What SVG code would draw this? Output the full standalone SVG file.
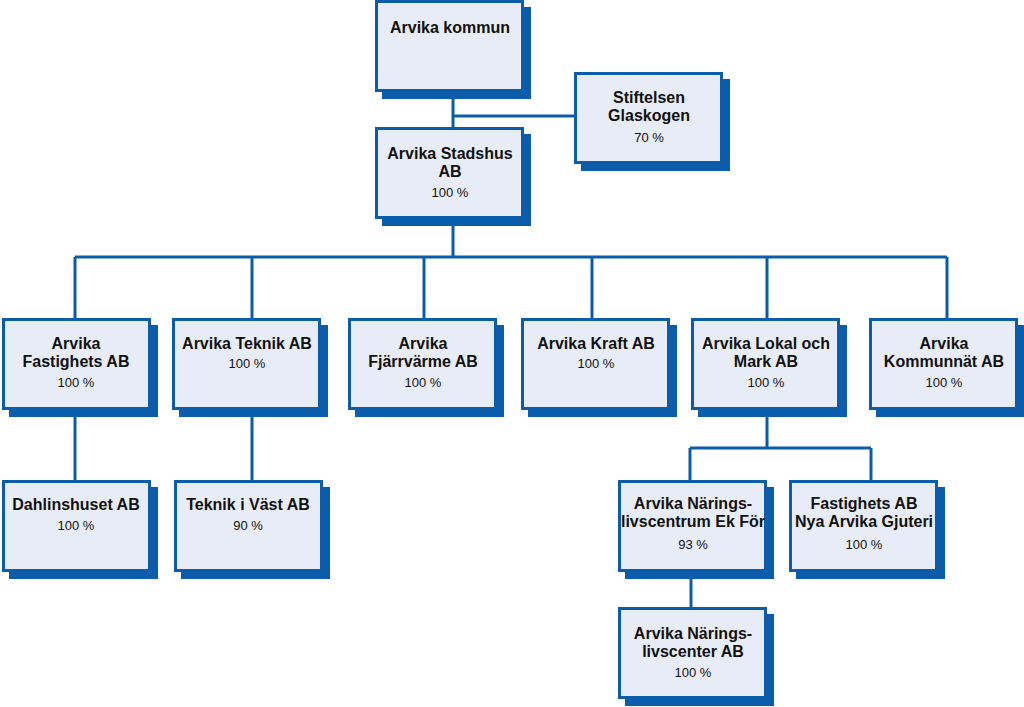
<svg xmlns="http://www.w3.org/2000/svg" width="1024" height="707" viewBox="0 0 1024 707">
<style>
.sh{fill:#0b5cab}
.bx{fill:#e8ecf7;stroke:#0b5cab;stroke-width:3}
.t{font-family:"Liberation Sans",Arial,sans-serif;font-size:16px;font-weight:bold;fill:#111;text-anchor:middle}
.p{font-family:"Liberation Sans",Arial,sans-serif;font-size:13px;fill:#111;text-anchor:middle}
.c{stroke:#0b5cab;stroke-width:3;fill:none}
</style>
<rect width="1024" height="707" fill="#fff"/>
<g id="connectors">
<path class="c" d="M453,92V127M453,116H574M453,218V257M75,257H947M75,257V318M252,257V318M424,257V318M592,257V318M767,257V318M947,257V318M75,410V480M252,410V480M767,410V448M690,448H871M690,448V480M871,448V480M691,572V607"/>
</g>
<g id="kommun"><rect class="sh" x="382" y="7" width="149" height="92"/><rect class="bx" x="376.5" y="1.5" width="146" height="89"/><text class="t" x="450" y="33">Arvika kommun</text></g>
<g id="stadshus"><rect class="sh" x="382" y="134" width="149" height="92"/><rect class="bx" x="376.5" y="128.5" width="146" height="89"/><text class="t" x="450" y="159">Arvika Stadshus</text><text class="t" x="450" y="177">AB</text><text class="p" x="450" y="197">100 %</text></g>
<g id="stiftelsen"><rect class="sh" x="581" y="79" width="149" height="92"/><rect class="bx" x="575.5" y="73.5" width="146" height="89"/><text class="t" x="649" y="103">Stiftelsen</text><text class="t" x="649" y="121">Glaskogen</text><text class="p" x="649" y="142">70 %</text></g>
<g id="fastighets"><rect class="sh" x="9" y="325" width="149" height="92"/><rect class="bx" x="3.5" y="319.5" width="146" height="89"/><text class="t" x="76" y="349">Arvika</text><text class="t" x="76" y="367">Fastighets AB</text><text class="p" x="76" y="387">100 %</text></g>
<g id="teknik"><rect class="sh" x="179" y="325" width="149" height="92"/><rect class="bx" x="173.5" y="319.5" width="146" height="89"/><text class="t" x="247" y="349">Arvika Teknik AB</text><text class="p" x="247" y="368">100 %</text></g>
<g id="fjarrvarme"><rect class="sh" x="355" y="325" width="149" height="92"/><rect class="bx" x="349.5" y="319.5" width="146" height="89"/><text class="t" x="423" y="349">Arvika</text><text class="t" x="423" y="367">Fjärrvärme AB</text><text class="p" x="423" y="387">100 %</text></g>
<g id="kraft"><rect class="sh" x="528" y="325" width="149" height="92"/><rect class="bx" x="522.5" y="319.5" width="146" height="89"/><text class="t" x="596" y="349">Arvika Kraft AB</text><text class="p" x="596" y="368">100 %</text></g>
<g id="lokal"><rect class="sh" x="698" y="325" width="149" height="92"/><rect class="bx" x="692.5" y="319.5" width="146" height="89"/><text class="t" x="766" y="349">Arvika Lokal och</text><text class="t" x="766" y="367">Mark AB</text><text class="p" x="766" y="387">100 %</text></g>
<g id="kommunnat"><rect class="sh" x="876" y="325" width="149" height="92"/><rect class="bx" x="870.5" y="319.5" width="146" height="89"/><text class="t" x="944" y="349">Arvika</text><text class="t" x="944" y="367">Kommunnät AB</text><text class="p" x="944" y="387">100 %</text></g>
<g id="dahlinshuset"><rect class="sh" x="9" y="487" width="149" height="92"/><rect class="bx" x="3.5" y="481.5" width="146" height="89"/><text class="t" x="76" y="510">Dahlinshuset AB</text><text class="p" x="76" y="530">100 %</text></g>
<g id="teknikivast"><rect class="sh" x="181" y="487" width="149" height="92"/><rect class="bx" x="175.5" y="481.5" width="146" height="89"/><text class="t" x="248" y="510">Teknik i Väst AB</text><text class="p" x="248" y="530">90 %</text></g>
<g id="naringslivscentrum"><rect class="sh" x="625" y="487" width="149" height="92"/><rect class="bx" x="619.5" y="481.5" width="146" height="89"/><text class="t" x="693" y="509">Arvika Närings-</text><text class="t" x="693" y="527">livscentrum Ek För</text><text class="p" x="693" y="549">93 %</text></g>
<g id="gjuteri"><rect class="sh" x="796" y="487" width="149" height="92"/><rect class="bx" x="790.5" y="481.5" width="146" height="89"/><text class="t" x="864" y="509">Fastighets AB</text><text class="t" x="864" y="527">Nya Arvika Gjuteri</text><text class="p" x="864" y="549">100 %</text></g>
<g id="naringslivscenter"><rect class="sh" x="625" y="614" width="149" height="92"/><rect class="bx" x="619.5" y="608.5" width="146" height="89"/><text class="t" x="693" y="639">Arvika Närings-</text><text class="t" x="693" y="657">livscenter AB</text><text class="p" x="693" y="677">100 %</text></g>
</svg>
